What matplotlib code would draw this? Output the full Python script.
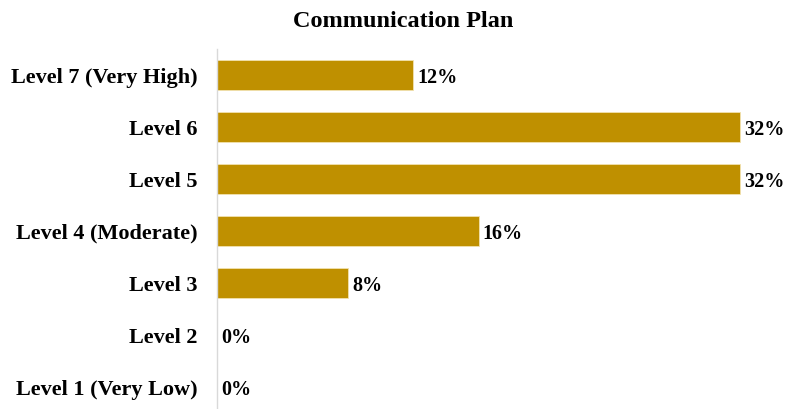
import matplotlib

matplotlib.use("Agg")
import matplotlib.pyplot as plt

levels = ["Level 1 (Very Low)", "Level 2", "Level 3", "Level 4 (Moderate)",
          "Level 5", "Level 6", "Level 7 (Very High)"]
shares = [0, 0, 8, 16, 32, 32, 12]  # percent of respondents

BAR_COLOR = "#BF9000"
plt.rcParams["font.family"] = ["Liberation Serif", "DejaVu Serif"]

W, H = 785, 409
fig = plt.figure(figsize=(W / 100, H / 100), dpi=100)
ax = fig.add_axes([217 / W, 0, (773 - 217) / W, (409 - 49) / H])

y = list(range(len(levels)))
ax.barh(y, shares, height=0.56, color=BAR_COLOR, edgecolor="#F2E2B0",
        linewidth=0.6)
for yi, v in zip(y, shares):
    ax.text(v + 0.25, yi, f"{v}%", va="center_baseline", ha="left",
            fontsize=14.5, fontweight="bold")

ax.set_xlim(0, 34)
ax.set_ylim(-0.423, 6.5)
ax.set_yticks(y)
ax.set_yticklabels(levels, fontsize=16, fontweight="bold")
ax.tick_params(axis="y", length=0, pad=14)
ax.set_xticks([])
for side in ("top", "right", "bottom"):
    ax.spines[side].set_visible(False)
ax.spines["left"].set_color("#D9D9D9")
ax.spines["left"].set_linewidth(1.0)

fig.text(403 / W, 1 - 19 / H, "Communication Plan", ha="center",
         va="center_baseline", fontsize=17.5, fontweight="bold")

fig.savefig("out.png", dpi=100)
